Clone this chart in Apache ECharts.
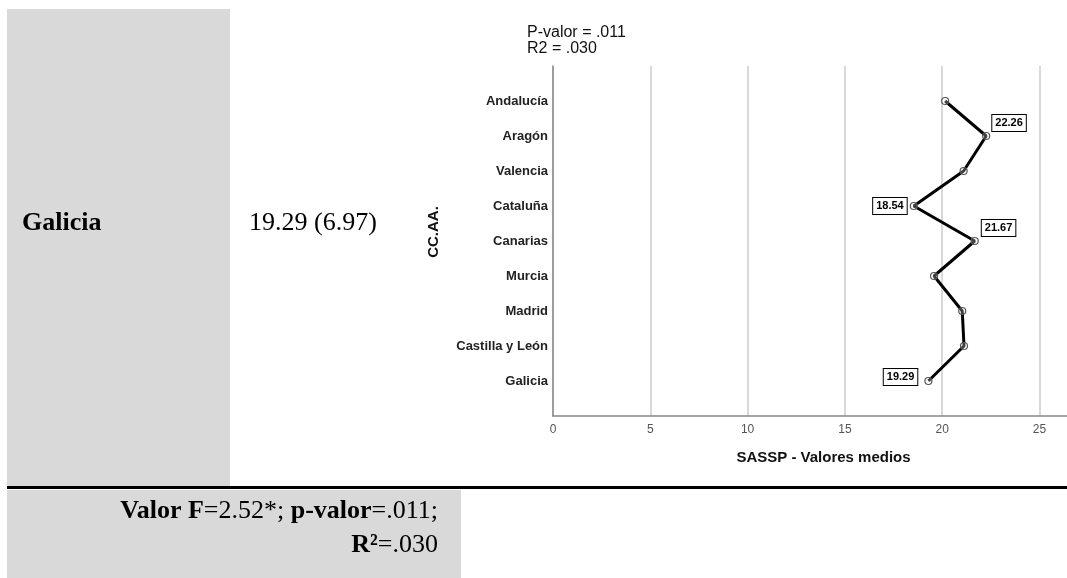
<!DOCTYPE html>
<html>
<head>
<meta charset="utf-8">
<script src="https://cdn.jsdelivr.net/npm/echarts@6/dist/echarts.min.js"></script>
<style>
html,body{margin:0;padding:0;background:#fff;}
#c{width:1067px;height:578px;}
</style>
</head>
<body>
<div id="c"></div>
<script>
// ---- data ----
const categories = ['Andalucía','Aragón','Valencia','Cataluña','Canarias','Murcia','Madrid','Castilla y León','Galicia'];
const meanValues = [20.15, 22.26, 21.10, 18.54, 21.67, 19.58, 21.03, 21.12, 19.29];
const xTicks = [0, 5, 10, 15, 20, 25];
const labeledCategories = ['Aragón','Cataluña','Canarias','Galicia'];
const titleLines = ['P-valor = .011', 'R2 = .030'];
const rowLabel = 'Galicia';
const rowValue = '19.29 (6.97)';
const footLine1 = ['Valor F', '=2.52*; ', 'p-valor', '=.011;'];
const footLine2 = ['R²', '=.030'];

// ---- label styles (appearance only) ----
const labelPlacement = {
  'Aragón':   {position:'right', distance:2, offset:[0,-13]},
  'Cataluña': {position:'left',  distance:3, offset:[0,0]},
  'Canarias': {position:'right', distance:3, offset:[0,-13]},
  'Galicia':  {position:'left',  distance:7, offset:[0,-4]}
};
const SANS = 'Liberation Sans, Arial, sans-serif';
const SERIF = 'Liberation Serif, Times New Roman, serif';

const seriesData = meanValues.map((v, i) => {
  const name = categories[i];
  const d = {value: [v, i + 1], name: name};
  if (labeledCategories.includes(name)) {
    const p = labelPlacement[name];
    d.label = Object.assign({
      show: true,
      formatter: (pp) => pp.value[0].toFixed(2),
      color: '#000', fontFamily: SANS, fontSize: 11, fontWeight: 'bold',
      backgroundColor: '#fff', borderColor: '#000', borderWidth: 1,
      padding: [3, 3, 2, 3]
    }, p);
  }
  return d;
});

const chart = echarts.init(document.getElementById('c'), null, {renderer: 'canvas'});
chart.setOption({
  animation: false,
  backgroundColor: '#fff',
  title: {
    text: titleLines.join('\n'),
    left: 522, top: 20, padding: 5,
    textStyle: {fontFamily: SANS, fontSize: 16, lineHeight: 16, fontWeight: 'normal', color: '#111'}
  },
  grid: {left: 553, top: 66, width: 541, height: 350, containLabel: false, outerBoundsMode: 'none'},
  xAxis: {
    type: 'value', min: 0, max: 27.8, interval: 5,
    axisLine: {show: true, onZero: false, lineStyle: {color: '#888', width: 1.5}},
    axisTick: {show: false},
    axisLabel: {
      color: '#555', fontFamily: SANS, fontSize: 12, margin: 8,
      showMaxLabel: false,
      formatter: (v) => xTicks.includes(v) ? String(v) : ''
    },
    splitLine: {show: true, lineStyle: {color: '#d9d9d9', width: 2}},
    name: 'SASSP - Valores medios',
    nameLocation: 'middle', nameGap: 34,
    nameTextStyle: {fontFamily: SANS, fontSize: 15, fontWeight: 'bold', color: '#111'}
  },
  yAxis: {
    type: 'value', min: 0, max: 10, interval: 1, inverse: true,
    axisLine: {show: true, onZero: false, lineStyle: {color: '#888', width: 1.5}},
    axisTick: {show: false},
    splitLine: {show: false},
    axisLabel: {
      color: '#222', fontFamily: SANS, fontSize: 13, fontWeight: 'bold', margin: 5,
      formatter: (v) => categories[v - 1] || ''
    },
    name: 'CC.AA.',
    nameLocation: 'middle', nameRotate: 90, nameGap: 112,
    nameTextStyle: {fontFamily: SANS, fontSize: 15, fontWeight: 'bold', color: '#111', padding: [0, 0, 0, 18]}
  },
  series: [{
    type: 'line',
    data: seriesData,
    symbol: 'circle', symbolSize: 7,
    lineStyle: {color: '#000', width: 3},
    itemStyle: {color: 'rgba(255,255,255,0.25)', borderColor: '#555', borderWidth: 1.2},
    label: {show: false},
    z: 5
  }],
  graphic: [
    {type: 'rect', z: -10, shape: {x: 7, y: 9, width: 223, height: 477}, style: {fill: '#d9d9d9'}},
    {type: 'rect', z: -10, shape: {x: 7, y: 490, width: 454, height: 88}, style: {fill: '#d9d9d9'}},
    {type: 'rect', z: -9, shape: {x: 7, y: 486, width: 1060, height: 3}, style: {fill: '#000'}},
    {type: 'text', x: 22, y: 223, style: {text: rowLabel, font: 'bold 26px ' + SERIF, fill: '#000', verticalAlign: 'middle'}},
    {type: 'text', x: 249, y: 223, style: {text: rowValue, font: '26px ' + SERIF, fill: '#000', verticalAlign: 'middle'}},
    {type: 'text', z: 10, x: 438, y: 511,
      style: {
        text: '{b|' + footLine1[0] + '}{n|' + footLine1[1] + '}{b|' + footLine1[2] + '}{n|' + footLine1[3] + '}',
        align: 'right', verticalAlign: 'middle',
        rich: {
          b: {font: 'bold 26px ' + SERIF, fill: '#000'},
          n: {font: '26px ' + SERIF, fill: '#000'}
        }
      }},
    {type: 'text', z: 10, x: 438, y: 545,
      style: {
        text: '{b|' + footLine2[0] + '}{n|' + footLine2[1] + '}',
        align: 'right', verticalAlign: 'middle',
        rich: {
          b: {font: 'bold 26px ' + SERIF, fill: '#000'},
          n: {font: '26px ' + SERIF, fill: '#000'}
        }
      }}
  ]
});
</script>
</body>
</html>
